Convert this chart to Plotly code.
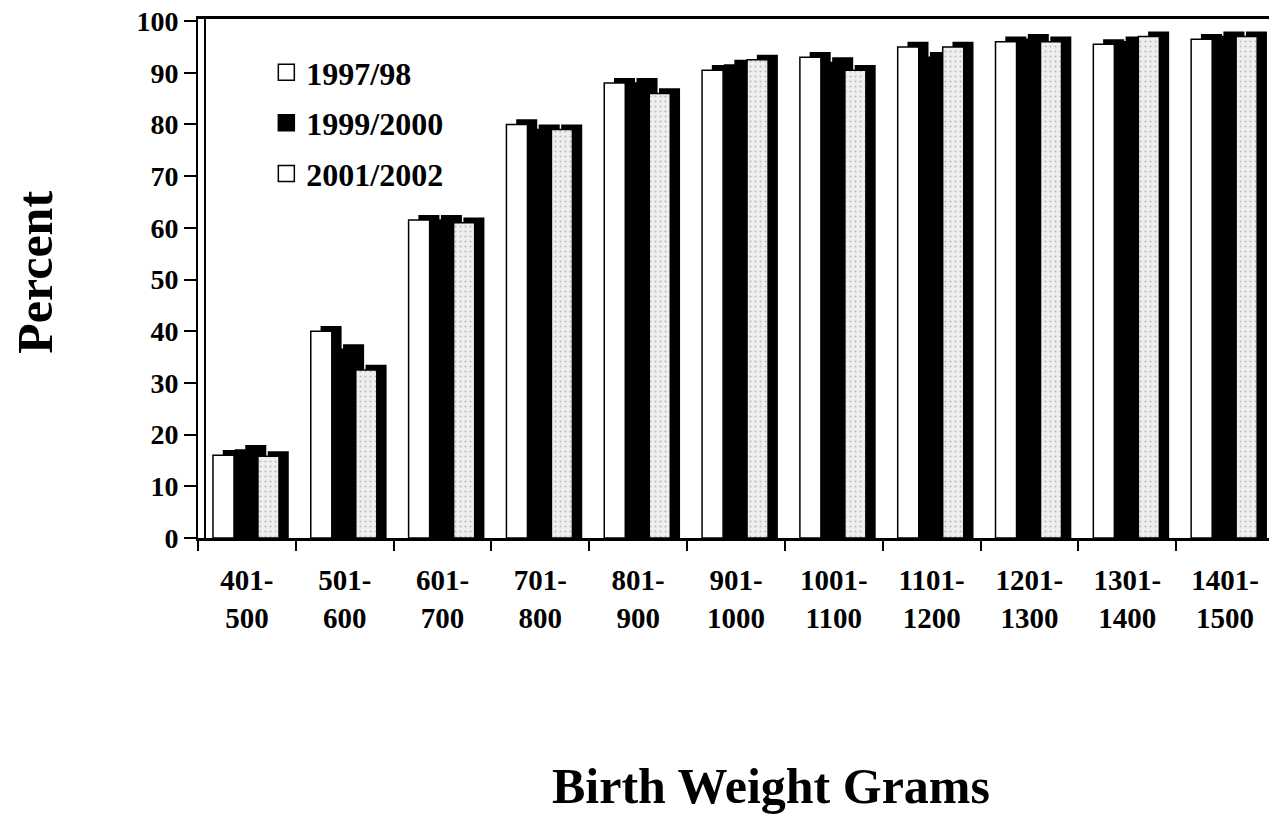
import plotly.graph_objects as go

categories = ["401-<br>500", "501-<br>600", "601-<br>700", "701-<br>800", "801-<br>900",
              "901-<br>1000", "1001-<br>1100", "1101-<br>1200", "1201-<br>1300",
              "1301-<br>1400", "1401-<br>1500"]
series_names = ["1997/98", "1999/2000", "2001/2002"]
v1997 = [16, 40, 61.5, 80, 88, 90.5, 93, 95, 96, 95.5, 96.5]
v1999 = [17, 36.5, 61.5, 79, 88, 91.5, 92, 93, 96.5, 96, 97]
v2001 = [15.8, 32.5, 61, 79, 86, 92.5, 90.5, 95, 96, 97, 97]
y_ticks = list(range(0, 101, 10))

FONT = "Liberation Serif"
series = [v1997, v1999, v2001]
offsets = [-0.347, -0.117, 0.113]
W = 0.215
styles = [
    dict(color="white", line=dict(color="black", width=1.5)),
    dict(color="black", line=dict(color="black", width=1.5)),
    dict(color="#efefef", line=dict(color="black", width=1.5),
         pattern=dict(shape=".", fgcolor="#8a8a8a", size=5, solidity=0.15)),
]
legend_fill = ["white", "black", "white"]

fig = go.Figure()
for i, (name, vals, off, st) in enumerate(zip(series_names, series, offsets, styles)):
    # 3D depth side/top (shadow)
    fig.add_trace(go.Bar(x=categories, y=[v + 1.0 for v in vals], offset=off + 0.1, width=W,
                         marker=dict(color="black", line=dict(width=0)),
                         showlegend=False, hoverinfo="skip"))
    # front face
    fig.add_trace(go.Bar(x=categories, y=vals, name=name, offset=off, width=W, marker=st,
                         legendgroup=f"g{i}", showlegend=False))
    # legend entry with a larger square swatch
    fig.add_trace(go.Scatter(x=[None], y=[None], mode="markers", name=name,
                             legendgroup=f"g{i}",
                             marker=dict(symbol="square", size=19, color=legend_fill[i],
                                         line=dict(color="black", width=1.5))))

fig.update_layout(
    barmode="overlay",
    width=1269, height=811,
    paper_bgcolor="white", plot_bgcolor="white",
    margin=dict(l=190, r=3, t=11, b=281, autoexpand=False),
    font=dict(family=FONT, color="black"),
    showlegend=True,
    legend=dict(x=0.0635, y=0.95, xanchor="left", yanchor="top",
                font=dict(family=FONT, size=32, color="black", weight="bold"),
                bgcolor="rgba(0,0,0,0)", tracegroupgap=6, itemwidth=30),
    xaxis=dict(showline=True, linecolor="black", linewidth=3, mirror=True,
               ticks="outside", ticklen=10, tickwidth=2, tickcolor="black",
               tickson="boundaries", automargin=False, ticklabelstandoff=14,
               tickfont=dict(family=FONT, size=29, color="black", weight="bold"),
               showgrid=False, range=[-0.5, 10.5]),
    yaxis=dict(range=[0, 100.4], tickvals=y_ticks, showline=True, linecolor="black",
               linewidth=2, ticks="outside", ticklen=12, tickwidth=2, tickcolor="black",
               automargin=False, ticklabeloverflow="allow",
               tickfont=dict(family=FONT, size=28, color="black", weight="bold"),
               showgrid=False, zeroline=False),
    annotations=[
        dict(text="<b>Percent</b>", x=-0.151, y=0.512, xref="paper", yref="paper",
             xanchor="center", yanchor="middle",
             showarrow=False, textangle=-90, font=dict(family=FONT, size=50, color="black")),
        dict(text="<b>Birth Weight Grams</b>", x=0.5325, y=-0.478, xref="paper", yref="paper",
             xanchor="center", yanchor="middle",
             showarrow=False, font=dict(family=FONT, size=50, color="black")),
    ],
    shapes=[
        dict(type="line", xref="paper", yref="paper", x0=0.0065, x1=0.0065, y0=0.0, y1=1.0,
             line=dict(color="black", width=2)),
    ],
)
fig.write_html("out.html")
